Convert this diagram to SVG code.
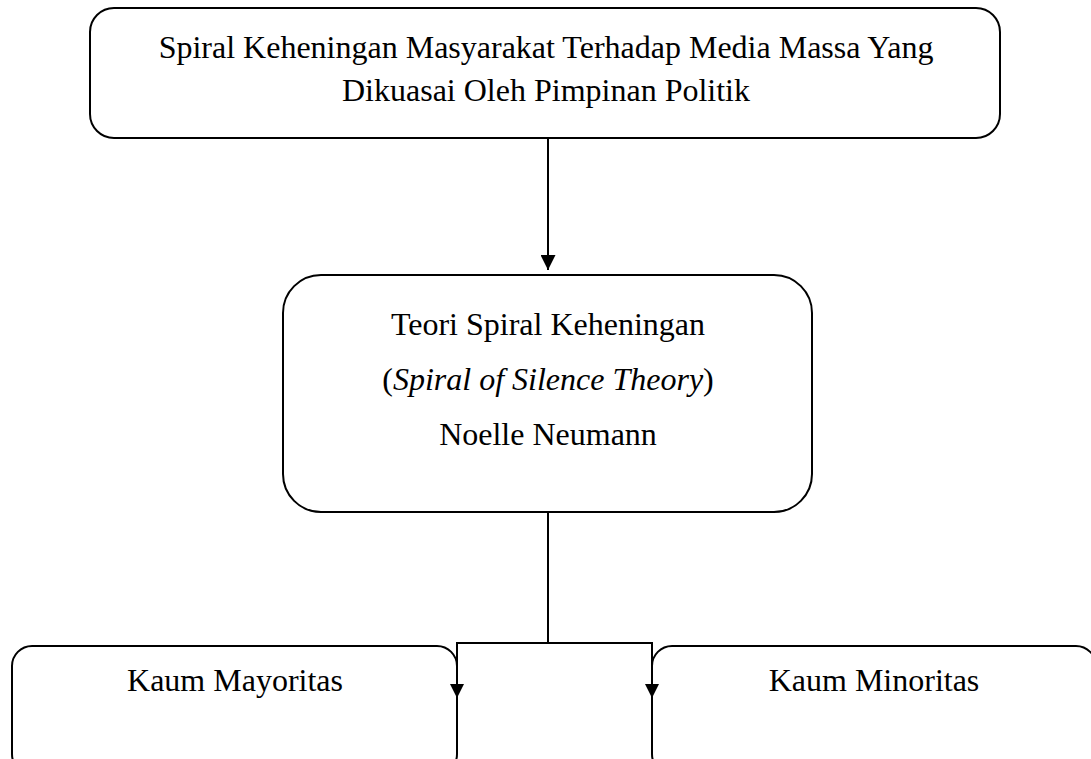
<svg xmlns="http://www.w3.org/2000/svg" width="1091" height="759" viewBox="0 0 1091 759">
<defs>
<style>
.box{fill:#fff;stroke:#000;stroke-width:2}
.t{font-family:"Liberation Serif","Times New Roman",serif;font-size:32px;fill:#000;text-anchor:middle}
.c{fill:none;stroke:#000;stroke-width:2}
</style>
<marker id="ah" viewBox="0 0 10 10" refX="10" refY="5" markerWidth="15" markerHeight="15" markerUnits="userSpaceOnUse" orient="auto">
<path d="M0,0 L10,5 L0,10 z" fill="#000"/>
</marker>
<marker id="ah2" viewBox="0 0 10 10" refX="10" refY="5" markerWidth="15" markerHeight="14" markerUnits="userSpaceOnUse" orient="auto">
<path d="M0,0 L10,5 L0,10 z" fill="#000"/>
</marker>
</defs>
<rect width="1091" height="759" fill="#fff"/>
<g id="top">
<rect class="box" x="90" y="8" width="910" height="130" rx="24"/>
<text class="t" x="546" y="58">Spiral Keheningan Masyarakat Terhadap Media Massa Yang</text>
<text class="t" x="546" y="101">Dikuasai Oleh Pimpinan Politik</text>
</g>
<g id="middle">
<rect class="box" x="283" y="275" width="529" height="237" rx="38"/>
<text class="t" x="548" y="335">Teori Spiral Keheningan</text>
<text class="t" x="548" y="390">(<tspan font-style="italic">Spiral of Silence Theory</tspan>)</text>
<text class="t" x="548" y="445">Noelle Neumann</text>
</g>
<g id="mayoritas">
<rect class="box" x="12" y="646" width="445" height="128" rx="20"/>
<text class="t" x="235" y="691">Kaum Mayoritas</text>
</g>
<g id="minoritas">
<rect class="box" x="652" y="646" width="444" height="128" rx="20"/>
<text class="t" x="874" y="691">Kaum Minoritas</text>
</g>
<g id="connectors">
<path class="c" d="M548,138 L548,270" marker-end="url(#ah)"/>
<path class="c" d="M548,512 L548,643"/>
<path class="c" d="M548,643 L457,643 L457,698" marker-end="url(#ah2)"/>
<path class="c" d="M548,643 L652,643 L652,698" marker-end="url(#ah2)"/>
</g>
</svg>
